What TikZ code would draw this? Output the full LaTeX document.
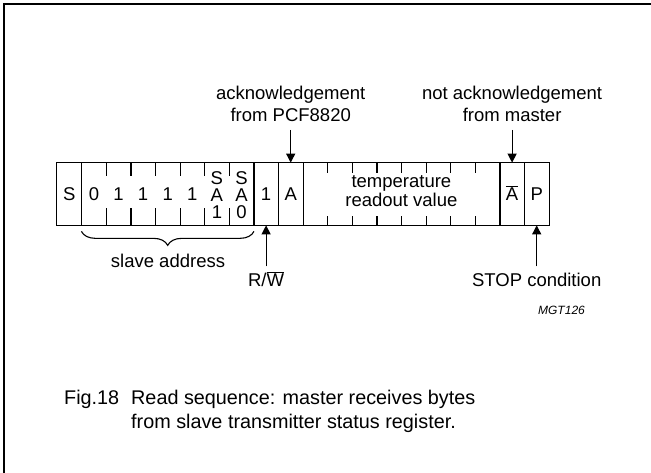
\documentclass[tikz,border=0pt]{standalone}
\usepackage{fontspec}
\setmainfont{Liberation Sans}
\usetikzlibrary{calc,positioning,arrows.meta,decorations.pathreplacing}

\begin{document}
\begin{tikzpicture}[x=1pt,y=-1pt,
  cell/.style={rectangle, minimum width=24.6pt, minimum height=62.3pt, inner sep=0pt,
    text height=13.3pt, text depth=0pt, font=\fontsize{18.5}{22}\selectfont},
  letter/.style={inner sep=0pt, anchor=base, text height=13.3pt, text depth=0pt,
    font=\fontsize{18.5}{22}\selectfont},
  lbl/.style={inner sep=0pt, align=center, font=\fontsize{18.5}{22}\selectfont},
  uplbl/.style={lbl, text height=13.3pt, text depth=0pt},
  capline/.style={inner sep=0pt, anchor=base west, font=\fontsize{19.8}{24}\selectfont},
  arr/.style={line width=1.2pt, -{Triangle[length=9pt,width=9pt]}},
  frm/.style={line width=1.1pt}]
\useasboundingbox (0,0) rectangle (651,473);
\draw[line width=1.5pt] (4,473) -- (4,4) -- (651,4);
% the bits
\foreach \t [count=\i from 0] in {S,0,1,1,1,1,{},{},1,A,{},{},{},{},{},{},{},{},{$\overline{\mbox{A}}$},P}
  \node[cell] (c\i) at (69.3+24.6*\i,194) {\t};
\draw[frm] (c0.north west) rectangle (c19.south east);
\foreach \i in {0,7,8,9,17,18}
  \draw[frm] (c\i.north east) -- (c\i.south east);
\foreach \i in {1,...,6}{
  \draw[frm] (c\i.north east) -- ++(0,13);
  \draw[frm] (c\i.south east) -- ++(0,-17);
}
\foreach \i in {10,...,16}{
  \draw[frm] (c\i.north east) -- ++(0,10);
  \draw[frm] (c\i.south east) -- ++(0,-9);
}
% SA1 and SA0, one letter under the other
\foreach \l [count=\k] in {S,A,1}
  \node[letter] (saa\k) at ($(c6)+(0,-25.7+16.6*\k)$) {\l};
\foreach \l [count=\k] in {S,A,0}
  \node[letter] (sab\k) at ($(c7)+(0,-25.7+16.6*\k)$) {\l};
\node[lbl, font=\fontsize{18.5}{19}\selectfont] (temp) at ($(c10)!.5!(c17)+(0,-3)$) {temperature\\readout value};
% labels and arrows
\node[lbl, above=40.7pt of c9] (ack) {acknowledgement\\from PCF8820};
\node[lbl, above=40.7pt of c18] (nack) {not acknowledgement\\from master};
\draw[arr, shorten <=8pt] (ack) -- (c9);
\draw[arr, shorten <=8pt] (nack) -- (c18);
\node[uplbl, below=47.5pt of c8] (rw) {R/$\overline{\mbox{W}}$};
\node[uplbl, below=47.5pt of c19] (stop) {STOP condition};
\draw[arr, shorten <=6.5pt] (rw) -- (c8);
\draw[arr, shorten <=6.5pt] (stop) -- (c19);
\draw[frm, decorate, decoration={brace, mirror, amplitude=14pt}]
  ([yshift=-6pt]c1.south west) -- ([yshift=-6pt]c7.south east);
\node[lbl, anchor=base] (slave) at (168,268) {slave address};
\node[inner sep=0pt, font=\fontsize{12}{14}\selectfont\itshape] (code) at (561.5,310) {MGT126};
% caption
\node[capline] (fig) at (64,404) {Fig.18};
\node[capline] (capa) at (131,404) {Read sequence: master receives bytes};
\node[capline] (capb) at ([yshift=-24pt]capa.base west) {from slave transmitter status register.};
\end{tikzpicture}
\end{document}
